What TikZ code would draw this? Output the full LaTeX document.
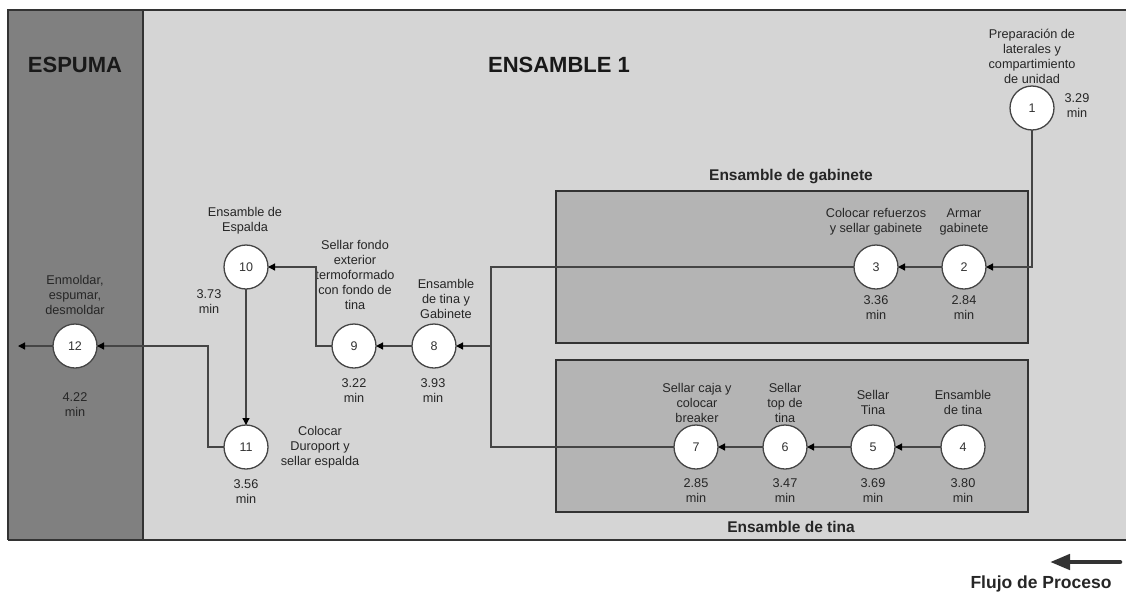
\documentclass[tikz,border=0pt]{standalone}
\usepackage{fontspec}
\setmainfont{Liberation Sans}
\usetikzlibrary{arrows.meta}

\definecolor{espumagray}{HTML}{808080}
\definecolor{areagray}{HTML}{D5D5D5}
\definecolor{boxgray}{HTML}{B4B4B4}
\definecolor{linegray}{HTML}{454545}
\definecolor{framegray}{HTML}{333333}

\begin{document}
\begin{tikzpicture}[x=1pt,y=-1pt,
  every node/.style={inner sep=0pt,outer sep=0pt},
  lbl/.style={align=center,font=\fontsize{12.7}{15}\selectfont,text=black!85},
  title/.style={font=\fontsize{22}{26}\selectfont\bfseries,text=black!90},
  subtitle/.style={font=\fontsize{15.5}{18}\selectfont\bfseries,text=black!85},
  op/.style={circle,draw=linegray,line width=1.3pt,fill=white,minimum size=44pt,
             font=\fontsize{12.5}{15}\selectfont,text=black!80},
  link/.style={draw=linegray,line width=1.3pt},
  conn/.style={link,-{Triangle[length=7pt,width=7pt,fill=black,color=black]}},
  subarea/.style={draw=framegray,line width=1.2pt,fill=boxgray}
]
\useasboundingbox (0,0) rectangle (1126,595);

% zones
\fill[areagray] (143,10) rectangle (1126,540);
\fill[espumagray] (8,10) rectangle (143,540);
\draw[framegray,line width=1.3pt] (1126,10) -- (8,10) -- (8,540);
\draw[framegray,line width=2pt] (8,540) -- (1126,540);
\draw[framegray,line width=1.3pt] (143,10) -- (143,540);

% sub-areas
\draw[subarea] (556,191) rectangle (1028,343);
\draw[subarea] (556,360) rectangle (1028,512);

% titles
\node[title] (tesp) at (75,65) {ESPUMA};
\node[title] (tens) at (559,65) {ENSAMBLE 1};
\node[subtitle] (tgab) at (791,177) {Ensamble de gabinete};
\node[subtitle] (ttin) at (791,527) {Ensamble de tina};

% operations
\node[op] (c1) at (1032,108) {1};
\node[op] (c2) at (964,267) {2};
\node[op] (c3) at (876,267) {3};
\node[op] (c4) at (963,447) {4};
\node[op] (c5) at (873,447) {5};
\node[op] (c6) at (785,447) {6};
\node[op] (c7) at (696,447) {7};
\node[op] (c8) at (434,346) {8};
\node[op] (c9) at (354,346) {9};
\node[op] (c10) at (246,267) {10};
\node[op] (c11) at (246,447) {11};
\node[op] (c12) at (75,346) {12};

% operation descriptions
\node[lbl] (l1) at (1032,56) {Preparación de\\laterales y\\compartimiento\\de unidad};
\node[lbl] (l2) at (964,222) {Armar\\gabinete};
\node[lbl] (l3) at (876,222) {Colocar refuerzos\\y sellar gabinete};
\node[lbl] (l4) at (963,402) {Ensamble\\de tina};
\node[lbl] (l5) at (873,402) {Sellar\\Tina};
\node[lbl] (l6) at (785,403) {Sellar\\top de\\tina};
\node[lbl] (l7) at (697,403) {Sellar caja y\\colocar\\breaker};
\node[lbl] (l8) at (446,299) {Ensamble\\de tina y\\Gabinete};
\node[lbl] (l9) at (355,275) {Sellar fondo\\exterior\\termoformado\\con fondo de\\tina};
\node[lbl] (l10) at (245,221) {Ensamble de\\Espalda};
\node[lbl] (l11) at (320,447) {Colocar\\Duroport y\\sellar espalda};
\node[lbl] (l12) at (75,295) {Enmoldar,\\espumar,\\desmoldar};

% operation times
\node[lbl] (t1) at (1077,106) {3.29\\min};
\node[lbl] (t2) at (964,308) {2.84\\min};
\node[lbl] (t3) at (876,308) {3.36\\min};
\node[lbl] (t4) at (963,491) {3.80\\min};
\node[lbl] (t5) at (873,491) {3.69\\min};
\node[lbl] (t6) at (785,491) {3.47\\min};
\node[lbl] (t7) at (696,491) {2.85\\min};
\node[lbl] (t8) at (433,391) {3.93\\min};
\node[lbl] (t9) at (354,391) {3.22\\min};
\node[lbl] (t10) at (209,302) {3.73\\min};
\node[lbl] (t11) at (246,492) {3.56\\min};
\node[lbl] (t12) at (75,405) {4.22\\min};

% bend points
\coordinate (j8) at (491,346);
\coordinate (b9) at (316,267);
\coordinate (b11) at (208,346);
\coordinate (out) at (18,346);

% flow connectors
\draw[conn] (c1.south) |- (c2.east);
\draw[conn] (c2.west) -- (c3.east);
\draw[link] (c3.west) -| (j8);
\draw[conn] (c4.west) -- (c5.east);
\draw[conn] (c5.west) -- (c6.east);
\draw[conn] (c6.west) -- (c7.east);
\draw[link] (c7.west) -| (j8);
\draw[conn] (j8) -- (c8.east);
\draw[conn] (c8.west) -- (c9.east);
\draw[conn] (c9.west) -| (b9) -- (c10.east);
\draw[conn] (c10.south) -- (c11.north);
\draw[conn] (c11.west) -| (b11) -- (c12.east);
\draw[conn] (c12.west) -- (out);

% process flow legend
\coordinate (fstart) at (1120,562);
\coordinate (fend) at (1050,562);
\draw[line width=4.5pt,color=black!80,line cap=round,
      -{Triangle[length=20pt,width=15pt]}] (fstart) -- (fend);
\node[font=\fontsize{17.5}{20}\selectfont\bfseries,text=black!85] (flujo) at (1041,584) {Flujo de Proceso};
\end{tikzpicture}
\end{document}
